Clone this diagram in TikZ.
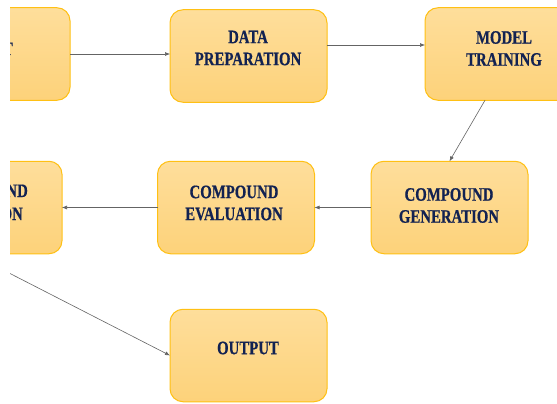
\documentclass[tikz,border=0pt]{standalone}
\usepackage{fontspec}
\newfontfamily\boxfont[FakeStretch=0.78, FakeBold=0.6, UprightFont={* Bold}]{Liberation Serif}
\usetikzlibrary{arrows.meta}
\definecolor{boxtop}{RGB}{254,222,155}
\definecolor{boxbot}{RGB}{253,210,122}
\definecolor{boxline}{RGB}{255,192,20}
\definecolor{txtcol}{RGB}{18,34,82}
\definecolor{conncol}{RGB}{100,100,100}
\begin{document}
\begin{tikzpicture}[x=1pt,y=-1pt,
  stepbox/.style={rounded corners=13pt, draw=boxline, line width=1pt, top color=boxtop, bottom color=boxbot, minimum width=157pt, minimum height=92.5pt, inner sep=0pt, outer sep=0pt},
  boxtext/.style={font=\boxfont\fontsize{19}{22}\selectfont, text=txtcol, align=center, inner sep=0pt},
  conn/.style={draw=conncol, line width=0.6pt, -{Latex[length=5pt,width=4pt]}}]
\useasboundingbox (0,0) rectangle (557,404);
\clip (10,0) rectangle (557,404);
\node[stepbox] (inp) at (-8.5,54) {};
\node[stepbox] (prep) at (248.5,56) {};
\node[stepbox] (train) at (503.5,54) {};
\node[stepbox] (gen) at (449.5,207.5) {};
\node[stepbox] (eval) at (236,207.5) {};
\node[stepbox] (sel) at (-16.5,207.5) {};
\node[stepbox] (out) at (248.5,355.5) {};
\node[boxtext] (prept) at (248,48) {DATA\\PREPARATION};
\node[boxtext] (traint) at (504,48.5) {MODEL\\TRAINING};
\node[boxtext] (gent) at (449,205.5) {COMPOUND\\GENERATION};
\node[boxtext] (evalt) at (234,203) {COMPOUND\\EVALUATION};
\node[boxtext] (outt) at (248,348) {OUTPUT};
\node[boxtext, anchor=base east] (inpt) at (13,55) {T};
\node[boxtext, anchor=base east] (selta) at (28,197) {ND};
\node[boxtext, anchor=base east] (seltb) at (23,220) {ON};
\draw[conn] (inp.east) -- (inp.east -| prep.west);
\draw[conn] ([yshift=11pt]prep.east) -- ([yshift=11pt]prep.east -| train.west);
\draw[conn] ([xshift=-18.5pt]train.south) -- (gen.north);
\draw[conn] (gen.west) -- (eval.east);
\draw[conn] (eval.west) -- (sel.east);
\draw[conn] ([xshift=-12pt]sel.south) -- (out.west);
\end{tikzpicture}
\end{document}
